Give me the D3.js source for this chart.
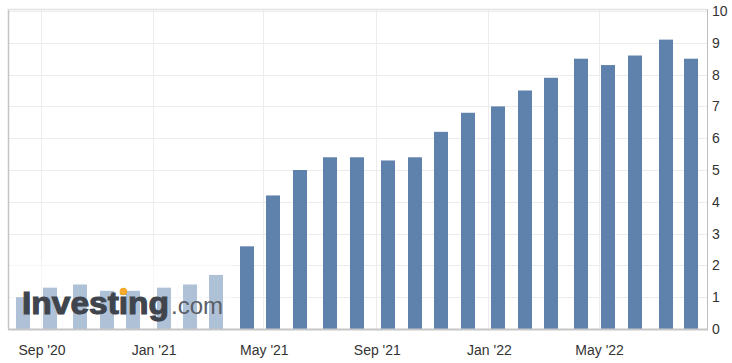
<!DOCTYPE html>
<html>
<head>
<meta charset="utf-8">
<script src="https://cdn.jsdelivr.net/npm/d3@7"></script>
<style>
  body { margin: 0; background: #fff; }
  svg { display: block; font-family: "Liberation Sans", Arial, sans-serif; }
</style>
</head>
<body>
<div id="vis"><svg width="732" height="363"></svg></div>
<script>
// release dates of each monthly print and its value
const releaseDates = [
  "2020-08-12", "2020-09-11", "2020-10-13", "2020-11-12", "2020-12-10",
  "2021-01-13", "2021-02-10", "2021-03-10", "2021-04-13", "2021-05-12",
  "2021-06-10", "2021-07-13", "2021-08-11", "2021-09-14", "2021-10-13",
  "2021-11-10", "2021-12-10", "2022-01-12", "2022-02-10", "2022-03-10",
  "2022-04-12", "2022-05-11", "2022-06-10", "2022-07-13", "2022-08-10"
];
const values = [
  1.0, 1.3, 1.4, 1.2, 1.2,
  1.3, 1.4, 1.7, 2.6, 4.2,
  5.0, 5.4, 5.4, 5.3, 5.4,
  6.2, 6.8, 7.0, 7.5, 7.9,
  8.5, 8.3, 8.6, 9.1, 8.5
];
const yTicks = [0, 1, 2, 3, 4, 5, 6, 7, 8, 9, 10];
const xTickDates = ["2020-09-01", "2021-01-01", "2021-05-01", "2021-09-01", "2022-01-01", "2022-05-01"];
const xDomain = ["2020-07-27", "2022-08-27"];

class BarChart {

  #svg;
  #box;
  #xScale;
  #yScale;

  constructor() {
    this.#svg = d3.select("#vis").select("svg");
    this.#box = { left: 8, right: 707, top: 11, bottom: 329 };
  }

  #setScales() {
    const parse = d3.utcParse("%Y-%m-%d");
    this.#xScale = d3.scaleUtc()
      .domain(xDomain.map(parse))
      .range([this.#box.left, this.#box.right]);
    this.#yScale = d3.scaleLinear()
      .domain([0, 10])
      .range([this.#box.bottom, this.#box.top]);
    return this;
  }

  #setGrid() {
    const g = this.#svg.append("g").attr("class", "grid");
    const parse = d3.utcParse("%Y-%m-%d");

    g.selectAll("line.h")
      .data(yTicks.filter(d => d > 0))
      .join("line")
      .attr("class", "h")
      .attr("x1", this.#box.left)
      .attr("x2", this.#box.right)
      .attr("y1", d => Math.round(this.#yScale(d)) + 0.5)
      .attr("y2", d => Math.round(this.#yScale(d)) + 0.5)
      .attr("stroke", "#ececec");

    g.selectAll("line.v")
      .data(xTickDates.map(parse))
      .join("line")
      .attr("class", "v")
      .attr("x1", d => Math.round(this.#xScale(d)) + 0.5)
      .attr("x2", d => Math.round(this.#xScale(d)) + 0.5)
      .attr("y1", 9)
      .attr("y2", this.#box.bottom)
      .attr("stroke", "#ececec");
    return this;
  }

  #setBars(data) {
    const w = 14;
    this.#svg.append("g")
      .attr("class", "bars")
      .selectAll("rect")
      .data(data)
      .join("rect")
      .attr("x", d => Math.round(this.#xScale(d.date) - w / 2))
      .attr("width", w)
      .attr("y", d => this.#yScale(d.value))
      .attr("height", d => this.#yScale(0) - this.#yScale(d.value))
      .attr("fill", "#5f82ad");
    return this;
  }

  #setLogo() {
    // watermark washes out the bars beneath it
    this.#svg.append("rect")
      .attr("x", this.#box.left + 1)
      .attr("y", 262)
      .attr("width", 224)
      .attr("height", this.#box.bottom - 262)
      .attr("fill", "#fff")
      .attr("opacity", 0.5);

    const logo = this.#svg.append("g").attr("class", "logo");
    const word = logo.append("text")
      .attr("x", 22)
      .attr("y", 314)
      .attr("font-size", 32)
      .attr("font-weight", "bold")
      .attr("fill", "#40454d")
      .attr("stroke", "#40454d")
      .attr("stroke-width", 1.1)
      .attr("textLength", 147)
      .attr("lengthAdjust", "spacingAndGlyphs")
      .text("Investing");
    logo.append("text")
      .attr("x", 171)
      .attr("y", 314)
      .attr("font-size", 24)
      .attr("fill", "#5b6068")
      .attr("textLength", 52)
      .attr("lengthAdjust", "spacingAndGlyphs")
      .text(".com");

    const box = word.node().getExtentOfChar(6);
    logo.append("circle")
      .attr("cx", box.x + box.width / 2)
      .attr("cy", 291.5)
      .attr("r", 3.8)
      .attr("fill", "#f4a92a");
    return this;
  }

  #setAxes() {
    const b = this.#box;
    const parse = d3.utcParse("%Y-%m-%d");
    const fmt = d3.utcFormat("%b '%y");

    this.#svg.append("line")
      .attr("x1", b.left + 0.5).attr("x2", b.left + 0.5)
      .attr("y1", 9).attr("y2", b.bottom)
      .attr("stroke", "#c4c4c4").attr("stroke-width", 1.5);
    this.#svg.append("line")
      .attr("x1", b.left).attr("x2", b.right)
      .attr("y1", 9.5).attr("y2", 9.5)
      .attr("stroke", "#e2e2e2").attr("stroke-width", 1.5);
    this.#svg.append("line")
      .attr("x1", b.right + 0.5).attr("x2", b.right + 0.5)
      .attr("y1", 9).attr("y2", b.bottom + 1)
      .attr("stroke", "#bdbdbd");
    this.#svg.append("line")
      .attr("x1", b.left).attr("x2", b.right + 1)
      .attr("y1", b.bottom + 0.5).attr("y2", b.bottom + 0.5)
      .attr("stroke", "#c6c6c6").attr("stroke-width", 2);

    this.#svg.append("g")
      .attr("class", "y-labels")
      .selectAll("text")
      .data(yTicks)
      .join("text")
      .attr("x", 712)
      .attr("y", d => this.#yScale(d) + 5)
      .attr("font-size", 14)
      .attr("fill", "#333")
      .text(d => d);

    this.#svg.append("g")
      .attr("class", "x-labels")
      .selectAll("text")
      .data(xTickDates.map(parse))
      .join("text")
      .attr("x", d => this.#xScale(d) + 1)
      .attr("y", 355)
      .attr("text-anchor", "middle")
      .attr("font-size", 14)
      .attr("fill", "#333")
      .text(d => fmt(d));
    return this;
  }

  drawChart(dates, vals) {
    const parse = d3.utcParse("%Y-%m-%d");
    const data = dates.map((d, i) => ({ date: parse(d), value: vals[i] }));

    this.#setScales()
      .#setGrid()
      .#setBars(data)
      .#setLogo()
      .#setAxes();
    return this;
  }
}

new BarChart().drawChart(releaseDates, values);
</script>
</body>
</html>
